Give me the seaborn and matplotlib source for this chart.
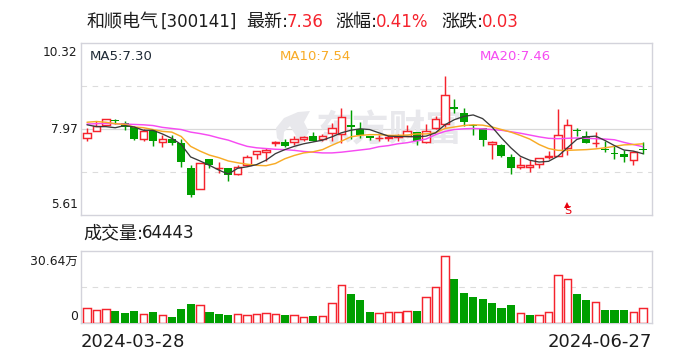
import matplotlib
matplotlib.use("Agg")
import matplotlib.pyplot as plt
import numpy as np
import pandas as pd
import seaborn as sns

opens = [7.71,7.91,8.08,8.19,8.13,8.02,7.68,7.93,7.60,7.70,7.59,6.91,6.33,7.13,6.89,6.91,6.73,6.98,7.28,7.33,
         7.57,7.62,7.60,7.70,7.78,7.68,7.86,7.82,8.08,7.97,7.78,7.71,7.71,7.74,7.78,7.88,7.61,8.00,8.10,8.57,
         8.40,8.07,8.00,7.56,7.54,7.21,6.92,6.92,7.01,7.20,7.23,7.45,7.92,7.77,7.58,7.42,7.29,7.29,7.12,7.40]
closes = [7.86,8.06,8.23,8.18,8.02,7.68,7.91,7.63,7.69,7.57,7.06,6.15,7.04,6.98,6.90,6.70,6.93,7.20,7.36,7.40,
          7.61,7.51,7.69,7.75,7.65,7.78,8.00,8.29,8.03,7.80,7.71,7.73,7.74,7.77,7.91,7.65,7.91,8.24,8.89,8.50,
          8.15,8.05,7.66,7.61,7.22,6.90,6.99,6.99,7.18,7.22,7.79,8.07,7.90,7.58,7.59,7.40,7.28,7.19,7.34,7.39]
highs = [8.00,8.18,8.23,8.24,8.19,8.06,7.97,7.97,7.81,7.81,7.68,6.97,7.04,7.15,7.06,6.91,6.99,7.24,7.36,7.45,
         7.65,7.70,7.77,7.78,7.89,7.83,8.13,8.55,8.49,8.17,7.78,7.81,7.81,7.83,8.08,7.89,8.11,8.33,9.42,8.79,
         8.54,8.11,8.00,7.65,7.56,7.27,7.19,7.11,7.18,7.35,8.52,8.25,7.98,7.92,7.89,7.65,7.51,7.40,7.36,7.62]
lows = [7.63,7.91,8.08,8.11,7.95,7.66,7.65,7.51,7.47,7.54,6.92,6.10,6.33,6.89,6.77,6.53,6.70,6.95,7.13,7.09,
        7.49,7.48,7.54,7.63,7.63,7.65,7.65,7.57,7.68,7.71,7.66,7.63,7.63,7.63,7.77,7.54,7.57,7.97,8.01,8.39,
        8.06,7.81,7.51,7.13,7.20,6.72,6.88,6.80,6.91,7.13,7.22,7.25,7.77,7.57,7.48,7.33,7.13,7.06,6.97,7.27]
ma5 = [8.08,8.03,8.03,8.00,8.06,8.02,7.93,7.93,7.83,7.71,7.54,7.20,7.09,6.97,6.84,6.73,6.89,6.93,6.99,7.11,
       7.29,7.40,7.49,7.56,7.61,7.66,7.75,7.86,7.93,7.97,7.95,7.86,7.77,7.76,7.76,7.75,7.77,7.86,8.08,8.22,
       8.31,8.35,8.25,8.02,7.72,7.45,7.22,7.11,7.06,7.08,7.22,7.45,7.68,7.75,7.77,7.65,7.51,7.39,7.36,7.29]
ma10 = [8.15,8.17,8.15,8.11,8.09,8.02,8.00,7.95,7.90,7.88,7.76,7.49,7.36,7.25,7.18,7.09,7.04,7.00,6.97,6.96,
        7.02,7.15,7.24,7.31,7.34,7.40,7.52,7.63,7.75,7.79,7.81,7.81,7.79,7.79,7.80,7.83,7.83,7.86,7.98,8.02,
        8.06,8.08,8.07,8.02,7.95,7.88,7.79,7.69,7.54,7.43,7.38,7.38,7.39,7.40,7.42,7.45,7.49,7.53,7.54,7.56]
ma20 = [8.10,8.11,8.12,8.11,8.10,8.09,8.08,8.06,8.01,7.98,7.95,7.88,7.84,7.79,7.72,7.66,7.57,7.49,7.45,7.43,
        7.41,7.40,7.38,7.35,7.33,7.31,7.31,7.33,7.36,7.39,7.42,7.48,7.51,7.56,7.59,7.64,7.69,7.81,7.90,7.95,
        7.97,7.98,7.97,7.95,7.93,7.89,7.85,7.80,7.75,7.71,7.70,7.71,7.72,7.71,7.70,7.69,7.67,7.60,7.54,7.48]
volumes = [6.86,5.94,6.40,5.64,4.72,5.64,4.11,5.18,3.66,2.90,6.55,8.84,8.23,5.18,4.27,3.81,4.11,3.66,4.11,4.57,
           4.11,3.81,3.66,2.74,3.35,3.20,9.14,17.37,13.41,10.67,5.18,4.57,5.03,5.03,5.49,5.64,11.89,16.46,30.64,20.27,
           13.87,12.04,11.13,9.30,7.01,8.38,4.57,3.81,3.66,5.03,21.95,20.12,13.41,10.67,9.60,6.10,6.10,6.10,5.03,6.86]
volume_up = [1,1,1,0,0,0,1,0,1,0,0,0,1,0,0,0,1,1,1,1,
             1,0,1,1,0,1,1,1,0,0,0,1,1,1,1,0,1,1,1,0,
             0,0,0,0,0,0,1,0,1,1,1,1,0,0,1,0,0,0,1,1]
price_ticks = ["10.32", "7.97", "5.61"]
volume_ticks = ["30.64万", "0"]
date_labels = ["2024-03-28", "2024-06-27"]

W, H = 688, 360
RED, GREEN = "#f5232d", "#009f00"
BORDER = "#d3d3db"
TEXT = "#1c1c1c"
FAMILY = ["DejaVu Sans", "Noto Sans CJK SC"]

sns.set_theme(style="white")
plt.rcParams["font.family"] = FAMILY
fig = plt.figure(figsize=(W / 100, H / 100), dpi=100, facecolor="white")


def panel(left, top, right, bottom):
    ax = fig.add_axes([left / W, 1 - bottom / H, (right - left) / W, (bottom - top) / H])
    for s in ax.spines.values():
        s.set_color(BORDER)
        s.set_linewidth(1.0)
    ax.set_xticks([])
    ax.set_yticks([])
    ax.set_xlim(-0.69, 59.93)
    return ax


def label(x, y, s, size, color=TEXT, ha="left", **kw):
    fig.text(x / W, 1 - y / H, s, fontsize=size, color=color, ha=ha, va="center", family=FAMILY, **kw)


df = pd.DataFrame(dict(i=np.arange(60), open=opens, close=closes, high=highs, low=lows,
                       ma5=ma5, ma10=ma10, ma20=ma20, volume=volumes, up=volume_up))

# Price panel
ax = panel(80.5, 43, 651.5, 215)
ax.set_ylim(5.61, 10.32)
DASH = (0, (5, 5))
ax.axhline(9.15, color="#dcdcdc", lw=0.8, ls=DASH, zorder=1)
ax.axhline(6.79, color="#dcdcdc", lw=0.8, ls=DASH, zorder=1)
ax.axhline(7.97, color="#d9d9d9", lw=0.9, zorder=1)

# Watermark
ax.text(0.413, 0.49, "东方财富", transform=ax.transAxes, fontsize=26.5, color="#e8e8ec", weight="bold",
        family=["Noto Sans CJK SC"], ha="left", va="center", zorder=1.5)
flame = np.array([[276, 128], [284, 118], [298, 112], [310, 111], [304, 122], [309, 132], [302, 143],
                  [294, 150], [296, 136], [290, 126], [284, 132], [283, 144], [277, 138]])
ax.fill((flame[:, 0] - 80.5) / 571, (215 - flame[:, 1]) / 172, transform=ax.transAxes,
        color="#e8e8ec", lw=0, zorder=1.5)

# Candles
up = df[df.close >= df.open]
down = df[df.close < df.open]
ax.vlines(up.i, up.close, up.high, color=RED, lw=1.05, zorder=3)
ax.vlines(up.i, up.low, up.open, color=RED, lw=1.05, zorder=3)
ax.vlines(down.i, down.low, down.high, color=GREEN, lw=1.05, zorder=3)
ax.bar(up.i, (up.close - up.open).clip(lower=0.015), bottom=up.open, width=0.8,
       facecolor="white", edgecolor=RED, lw=1.05, zorder=3)
ax.bar(down.i, (down.open - down.close).clip(lower=0.025), bottom=down.close, width=0.84,
       color=GREEN, lw=0, zorder=3)

# Moving averages
sns.lineplot(data=df, x="i", y="ma20", ax=ax, color="#f64bf2", lw=1.05, zorder=4, errorbar=None)
sns.lineplot(data=df, x="i", y="ma10", ax=ax, color="#f8ab26", lw=1.05, zorder=4.1, errorbar=None)
sns.lineplot(data=df, x="i", y="ma5", ax=ax, color="#3a3a3a", lw=0.95, zorder=4.2, errorbar=None)
ax.set_xlabel("")
ax.set_ylabel("")
ax.set_xlim(-0.69, 59.93)
ax.set_ylim(5.61, 10.32)

# Sell marker
ax.plot([51], [5.88], marker="^", ms=4, color="#e8000d", mew=0, zorder=5)
ax.text(51, 5.72, "S", color="#e8000d", fontsize=8, ha="center", va="center", zorder=5, family=FAMILY)

# Volume panel
vax = panel(80.5, 251.3, 651.5, 323.3)
vax.axhline(16.46, color="#dcdcdc", lw=0.8, ls=DASH, zorder=0)
vup = df[df.up == 1]
vdown = df[df.up == 0]
sns.barplot(data=vdown, x="i", y="volume", native_scale=True, ax=vax, color=GREEN, saturation=1,
            width=0.86, errorbar=None, linewidth=0, zorder=3)
sns.barplot(data=vup, x="i", y="volume", native_scale=True, ax=vax, color="white", saturation=1,
            width=0.8, errorbar=None, edgecolor=RED, linewidth=1.05, zorder=3)
vax.set_xlabel("")
vax.set_ylabel("")
vax.set_xticks([])
vax.set_yticks([])
vax.set_xlim(-0.69, 59.93)
vax.set_ylim(0, 32.9)

# Text
label(87, 22, "和顺电气", 13)
label(160.5, 22, "[300141]", 12)
label(246, 22, "最新:", 13)
label(287, 22, "7.36", 12, RED)
label(335, 22, "涨幅:", 13)
label(376, 22, "0.41%", 12, RED)
label(441, 22, "涨跌:", 13)
label(482, 22, "0.03", 12, RED)
label(90, 57, "MA5:7.30", 9.5, "#1f2a36")
label(280, 57, "MA10:7.54", 9.5, "#f8ab26")
label(480, 57, "MA20:7.46", 9.5, "#f64bf2")
label(77.5, 52.5, price_ticks[0], 8.7, ha="right")
label(77.5, 129, price_ticks[1], 8.7, ha="right")
label(77.5, 205, price_ticks[2], 8.7, ha="right")
label(83, 233, "成交量:", 13)
label(141.5, 233, "64443", 12)
label(78, 261, volume_ticks[0], 8.9, ha="right")
label(78, 316, volume_ticks[1], 8.9, ha="right")
label(80.5, 342, date_labels[0], 13)
label(652, 342, date_labels[1], 13, ha="right")

fig.savefig("out.png", dpi=100, facecolor="white")
